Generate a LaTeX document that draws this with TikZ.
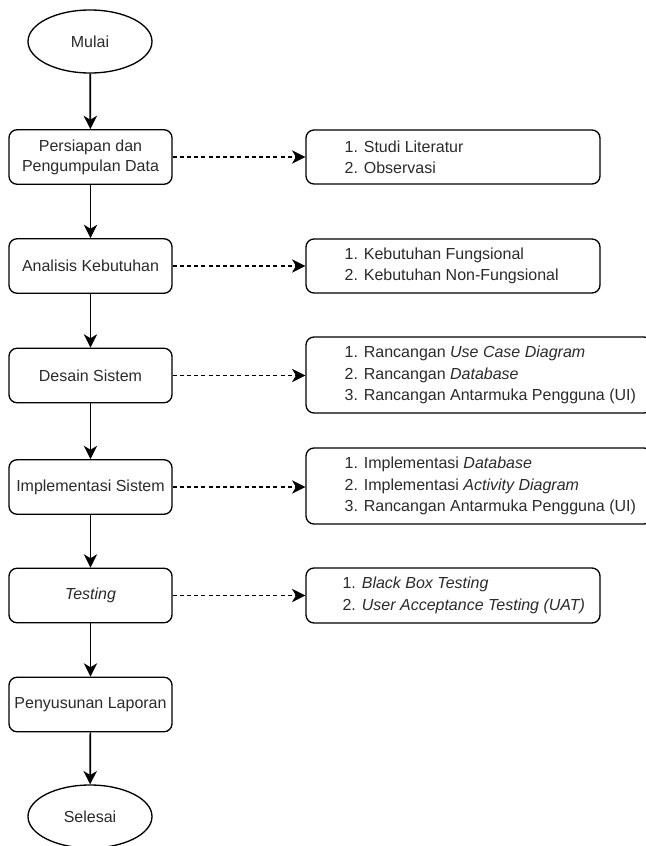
\documentclass[tikz,border=0pt]{standalone}
\usepackage{fontspec}
\setmainfont{Liberation Sans}
\usetikzlibrary{shapes.geometric,arrows.meta}
\definecolor{txtgray}{HTML}{2A2A2A}
\begin{document}
\begin{tikzpicture}[x=0.75pt,y=-0.75pt,
  font=\fontsize{12}{15}\selectfont,
  terminal/.style={ellipse, draw=black, line width=1pt, text=txtgray,
    minimum width=93pt, minimum height=47.25pt, inner sep=0pt},
  stepbox/.style={rectangle, rounded corners=6pt, draw=black, line width=1pt,
    text=txtgray, minimum width=122.25pt, minimum height=40.875pt,
    inner sep=0pt, align=center},
  detailbox/.style={rectangle, rounded corners=6pt, draw=black, line width=1pt,
    minimum width=#1, inner sep=0pt},
  detailtext/.style={anchor=west, inner sep=0pt, align=left, text=txtgray,
    font=\fontsize{12}{16}\selectfont},
  flow/.style={-{Stealth[length=10pt,width=10pt,inset=3pt]}, line width=1.3pt},
  link/.style={-{Stealth[length=10pt,width=10pt,inset=3pt,line width=0.5pt]},
    line width=1pt, dash pattern=on 3pt off 2.4pt}]

\useasboundingbox (0,0) rectangle (646,846);
\clip (0,0) rectangle (646,846);

% main flow
\node[terminal] (start) at (90,41.5) {Mulai};
\node[stepbox] (s1) at (90.5,157) {Persiapan dan\\Pengumpulan Data};
\node[stepbox] (s2) at (90.5,266) {Analisis Kebutuhan};
\node[stepbox] (s3) at (90.5,375.5) {Desain Sistem};
\node[stepbox] (s4) at (90.5,487) {Implementasi Sistem};
\node[stepbox] (s5) at (90.5,595.5) {\textit{Testing}};
\node[stepbox] (s6) at (90.5,704.5) {Penyusunan Laporan};
\node[terminal] (stop) at (90,816.5) {Selesai};

% detail boxes
\node[detailbox=220.5pt, minimum height=40.5pt] (d1) at (453,157) {};
\node[detailbox=220.5pt, minimum height=40.5pt] (d2) at (453,266) {};
\node[detailbox=259.5pt, minimum height=57pt] (d3) at (479,375) {};
\node[detailbox=259.5pt, minimum height=57pt] (d4) at (479,486) {};
\node[detailbox=220.5pt, minimum height=41.25pt] (d5) at (453,595.5) {};

\node[detailtext, xshift=29.25pt] (t1) at (d1.west)
  {1. Studi Literatur\\2. Observasi};
\node[detailtext, xshift=29.25pt] (t2) at (d2.west)
  {1. Kebutuhan Fungsional\\2. Kebutuhan Non-Fungsional};
\node[detailtext, xshift=29.25pt] (t3) at (d3.west)
  {1. Rancangan \textit{Use Case Diagram}\\2. Rancangan \textit{Database}\\3. Rancangan Antarmuka Pengguna (UI)};
\node[detailtext, xshift=29.25pt] (t4) at (d4.west)
  {1. Implementasi \textit{Database}\\2. Implementasi \textit{Activity Diagram}\\3. Rancangan Antarmuka Pengguna (UI)};
\node[detailtext, xshift=27.75pt] (t5) at (d5.west)
  {1. \textit{Black Box Testing}\\2. \textit{User Acceptance Testing (UAT)}};

% connectors
\draw[flow] (start) -- (s1);
\draw[flow] (s1) -- (s2);
\draw[flow] (s2) -- (s3);
\draw[flow] (s3) -- (s4);
\draw[flow] (s4) -- (s5);
\draw[flow] (s5) -- (s6);
\draw[flow] (s6) -- (stop);

\draw[link] (s1.east) -- (s1.east -| d1.west);
\draw[link] (s2.east) -- (s2.east -| d2.west);
\draw[link] (s3.east) -- (s3.east -| d3.west);
\draw[link] (s4.east) -- (s4.east -| d4.west);
\draw[link] (s5.east) -- (s5.east -| d5.west);
\end{tikzpicture}
\end{document}
